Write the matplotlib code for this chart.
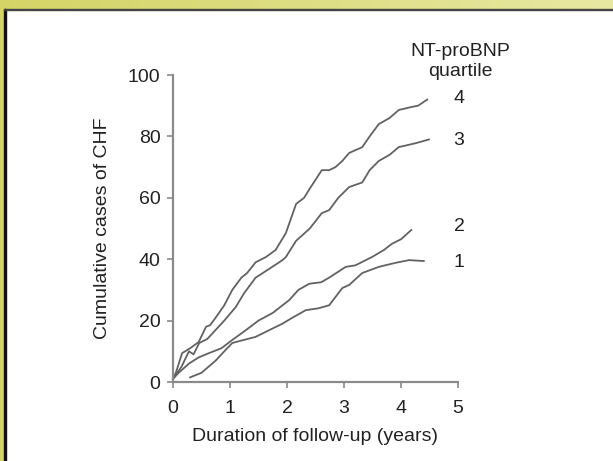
import numpy as np
import matplotlib
matplotlib.use("Agg")
import matplotlib.pyplot as plt
from matplotlib.patches import Rectangle

plt.rcParams['font.family'] = ['Liberation Sans', 'DejaVu Sans']

# cumulative CHF cases per NT-proBNP quartile
q4_x = [0.0, 0.05, 0.16, 0.3, 0.45, 0.58, 0.65, 0.75, 0.9, 1.04, 1.2, 1.3, 1.45, 1.63, 1.8, 1.98, 2.16, 2.3, 2.4, 2.61, 2.74, 2.85, 2.97, 3.09, 3.32, 3.45, 3.61, 3.8, 3.96, 4.19, 4.3, 4.46]
q4_y = [1, 3, 9.4, 11, 13, 18, 18.5, 21, 25, 30, 34, 35.5, 39, 40.7, 43, 48.5, 58, 60, 63, 69, 69, 70, 72, 74.6, 76.5, 80, 84, 86, 88.6, 89.6, 90, 92]
q3_x = [0.0, 0.15, 0.28, 0.36, 0.46, 0.6, 0.75, 0.9, 1.1, 1.25, 1.45, 1.7, 1.92, 1.98, 2.16, 2.4, 2.61, 2.74, 2.9, 3.09, 3.32, 3.45, 3.61, 3.8, 3.96, 4.26, 4.49]
q3_y = [1, 5, 10, 9, 12.7, 14, 17, 20, 24.4, 29, 34, 37, 39.7, 40.7, 46, 50, 55, 56, 60, 63.5, 65, 69, 72, 74, 76.5, 77.8, 79]
q2_x = [0.0, 0.1, 0.28, 0.45, 0.63, 0.85, 1.04, 1.25, 1.5, 1.75, 2.04, 2.2, 2.39, 2.6, 2.74, 3.03, 3.2, 3.49, 3.7, 3.84, 4.0, 4.18]
q2_y = [1, 3, 6, 8, 9.4, 11, 13.7, 16.5, 20, 22.5, 26.7, 30, 32, 32.5, 34, 37.5, 38, 40.7, 43, 45, 46.5, 49.5]
q1_x = [0.3, 0.5, 0.75, 0.9, 1.04, 1.2, 1.45, 1.7, 1.92, 2.1, 2.33, 2.55, 2.74, 2.97, 3.09, 3.32, 3.61, 3.9, 4.14, 4.4]
q1_y = [1.5, 3, 7, 10, 12.7, 13.5, 14.7, 17, 19, 21, 23.4, 24, 25, 30.6, 31.6, 35.5, 37.5, 38.8, 39.7, 39.4]

curve_labels = ['4', '3', '2', '1']
label_y = [92.5, 78.8, 50.5, 39]

fs = 14
fig = plt.figure(figsize=(6.13, 4.61), dpi=100)
W, H = 613, 461

# frame: yellow band on top (gradient) and left
band = fig.add_axes([0, 1 - 9 / H, 1, 9 / H])
grad = np.linspace(0, 1, 256)
c0 = np.array([0.83, 0.83, 0.40])
c1 = np.array([0.91, 0.91, 0.64])
img = c0[None, None, :] * (1 - grad[None, :, None]) + c1[None, None, :] * grad[None, :, None]
band.imshow(img, aspect='auto', extent=[0, 1, 0, 1])
band.axis('off')
fig.patches.append(Rectangle((0, 0), 4 / W, 1, transform=fig.transFigure, color='#d4d466', zorder=0))
fig.patches.append(Rectangle((4 / W, 0), 1.5 / W, 1 - 9 / H, transform=fig.transFigure, color='#111111', zorder=1))
fig.patches.append(Rectangle((4 / W, 1 - 10.5 / H), 1, 1.5 / H, transform=fig.transFigure, color='#444444', zorder=1))

ax = fig.add_axes([173 / W, 1 - 382 / H, 285 / W, 307 / H])
col = '#626262'
for xs, ys in [(q4_x, q4_y), (q3_x, q3_y), (q2_x, q2_y), (q1_x, q1_y)]:
    ax.plot(xs, ys, color=col, lw=1.3, clip_on=False)

ax.set_xlim(0, 5)
ax.set_ylim(0, 100)
ax.set_xticks([0, 1, 2, 3, 4, 5])
ax.set_yticks([0, 20, 40, 60, 80, 100])
for s in ['top', 'right']:
    ax.spines[s].set_visible(False)
for s in ['left', 'bottom']:
    ax.spines[s].set_color('#8a8a8a')
    ax.spines[s].set_linewidth(1.6)
ax.tick_params(axis='y', colors='#8a8a8a', length=4, width=1.2, labelcolor='#222222', labelsize=fs, pad=5)
ax.tick_params(axis='x', colors='#8a8a8a', length=4, width=1.2, labelcolor='#222222', labelsize=fs, pad=9)
ax.set_xlabel("Duration of follow-up (years)", fontsize=fs, color='#222222', labelpad=8)
ax.set_ylabel("Cumulative cases of CHF", fontsize=fs, color='#222222', labelpad=12)

for lab, ly in zip(curve_labels, label_y):
    ax.text(5.02, ly, lab, fontsize=fs, color='#222222', ha='center', va='center', clip_on=False)
fig.text(460 / W, 1 - 51 / H, "NT-proBNP", fontsize=fs, color='#222222', ha='center', va='center')
fig.text(460 / W, 1 - 71 / H, "quartile", fontsize=fs, color='#222222', ha='center', va='center')

fig.savefig("out.png", dpi=100)
